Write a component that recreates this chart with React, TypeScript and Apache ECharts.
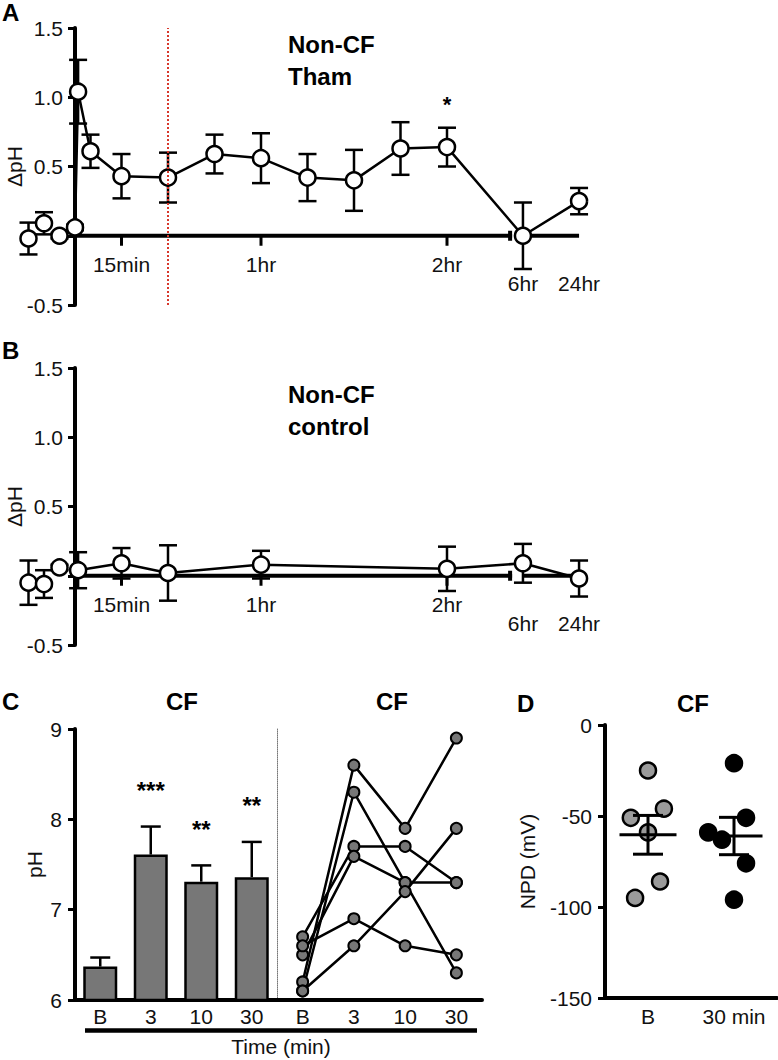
import React, { useEffect, useRef } from "react";
import * as echarts from "echarts";

const FONT = "'Liberation Sans', Arial, Helvetica, sans-serif";
const INK = "#111";

// ---------- Panel A: Non-CF, Tham (delta pH, mean ± SEM) ----------
const THAM_TIMES = [-15, -10, -5, 0, 1, 5, 15, 30, 45, 60, 75, 90, 105, 120, 360, 1440];
const THAM_MEAN = [-0.02, 0.09, 0.0, 0.06, 1.04, 0.61, 0.43, 0.42, 0.59, 0.56, 0.42, 0.4, 0.63, 0.64, 0.0, 0.25];
const THAM_SEM = [0.115, 0.08, 0.02, 0.02, 0.23, 0.12, 0.16, 0.18, 0.14, 0.18, 0.17, 0.22, 0.19, 0.14, 0.24, 0.095];
const THAM_SIG = ["", "", "", "", "", "", "", "", "", "", "", "", "", "*", "", ""];
const THAM_MARKER_TIME = 30; // red dotted line

// ---------- Panel B: Non-CF, control ----------
const CONTROL_TIMES = [-15, -10, -5, 1, 15, 30, 60, 120, 360, 1440];
const CONTROL_MEAN = [-0.05, -0.06, 0.06, 0.04, 0.09, 0.02, 0.08, 0.05, 0.09, -0.02];
const CONTROL_SEM = [0.16, 0.1, 0.02, 0.13, 0.11, 0.2, 0.1, 0.16, 0.14, 0.13];

const TIME_TICKS = [15, 60, 120];
const TIME_TICK_LABELS = ["15min", "1hr", "2hr"];
const LATE_TIMES = [360, 1440];
const LATE_LABELS = ["6hr", "24hr"];
const DPH_TICKS = [-0.5, 0, 0.5, 1.0, 1.5];

// ---------- Panel C: CF pH ----------
const CF_TIMES = ["B", "3", "10", "30"];
const CF_BAR_MEAN = [6.37, 7.61, 7.31, 7.36];
const CF_BAR_SEM = [0.1, 0.31, 0.18, 0.39];
const CF_STARS = ["", "***", "**", "**"];
const CF_SUBJECT_1 = [6.2, 8.6, 7.9, 8.9];
const CF_SUBJECT_2 = [6.1, 8.3, 7.3, 6.3];
const CF_SUBJECT_3 = [6.7, 7.7, 7.7, 7.3];
const CF_SUBJECT_4 = [6.5, 7.59, 7.3, 7.3];
const CF_SUBJECT_5 = [6.6, 6.9, 6.6, 6.5];
const CF_SUBJECT_6 = [6.1, 6.6, 7.2, 7.9];
const CF_SUBJECTS = [CF_SUBJECT_1, CF_SUBJECT_2, CF_SUBJECT_3, CF_SUBJECT_4, CF_SUBJECT_5, CF_SUBJECT_6];

// ---------- Panel D: CF NPD ----------
const NPD_GROUPS = ["B", "30 min"];
const NPD_B = [-25, -51, -46, -59, -86, -95];
const NPD_B_JITTER = [0, -0.4, 0.37, 0, 0.28, -0.3];
const NPD_30 = [-21, -51, -59, -63, -76, -96];
const NPD_30_JITTER = [0, 0.28, -0.6, -0.28, 0.28, 0];

// ---------- layout constants (broken time axis) ----------
const LATE_AXIS_POS = [144.5, 162.6];
const AXIS_BREAK = 141;
const toAxis = (t: number) => {
  const i = LATE_TIMES.indexOf(t);
  return i >= 0 ? LATE_AXIS_POS[i] : t;
};

const mean = (a: number[]) => a.reduce((s, v) => s + v, 0) / a.length;
const sem = (a: number[]) => {
  const m = mean(a);
  const v = a.reduce((s, x) => s + (x - m) * (x - m), 0) / (a.length - 1);
  return Math.sqrt(v) / Math.sqrt(a.length);
};

const LABEL = { fontSize: 21, color: INK, fontFamily: FONT };
const AXIS_LINE = { show: true, onZero: false, lineStyle: { color: "#000", width: 4 } };
const Y_TICK = { show: true, length: 7, lineStyle: { color: "#000", width: 3 } };

function errRender(capHalf: number, both: boolean) {
  return (params: any, api: any) => {
    const x = api.value(0);
    const lo = api.coord([x, api.value(1)]);
    const hi = api.coord([x, api.value(2)]);
    const style = { stroke: "#000", lineWidth: 2.5, fill: null };
    const children: any[] = [
      { type: "line", shape: { x1: hi[0], y1: hi[1], x2: lo[0], y2: lo[1] }, style },
      { type: "line", shape: { x1: hi[0] - capHalf, y1: hi[1], x2: hi[0] + capHalf, y2: hi[1] }, style },
    ];
    if (both) {
      children.push({ type: "line", shape: { x1: lo[0] - capHalf, y1: lo[1], x2: lo[0] + capHalf, y2: lo[1] }, style });
    }
    return { type: "group", children };
  };
}

function starRender(labels: string[], offset: number, size: number) {
  return (params: any, api: any) => {
    const p = api.coord([api.value(0), api.value(1)]);
    const txt = labels[api.value(2)];
    return {
      type: "text",
      x: p[0],
      y: p[1] - offset,
      style: { text: txt, fontSize: size, fontWeight: "bold", fontFamily: FONT, fill: "#000", align: "center", verticalAlign: "middle" },
    };
  };
}

// x-axis line drawn at y = 0, broken before the late time points
function axisSegRender(params: any, api: any) {
  const a = api.coord([api.value(0), 0]);
  const b = api.coord([api.value(1), 0]);
  const children: any[] = [
    { type: "line", shape: { x1: a[0], y1: a[1], x2: b[0], y2: b[1] }, style: { stroke: "#000", lineWidth: 4 } },
  ];
  if (api.value(2) === 1) {
    children.push({ type: "rect", shape: { x: b[0] - 4, y: b[1] - 5, width: 4, height: 10 }, style: { fill: "#000" } });
  }
  return { type: "group", children };
}

const ALL_TIME_LABELS = [...TIME_TICK_LABELS, ...LATE_LABELS];
function timeTickRender(params: any, api: any) {
  const p = api.coord([api.value(0), 0]);
  const late = api.value(2) === 1;
  const children: any[] = [];
  if (!late) {
    children.push({ type: "line", shape: { x1: p[0], y1: p[1], x2: p[0], y2: p[1] + 10 }, style: { stroke: "#000", lineWidth: 3 } });
  }
  children.push({
    type: "text",
    x: p[0],
    y: p[1] + (late ? 48 : 29),
    style: { text: ALL_TIME_LABELS[api.value(1)], fontSize: 21, fontFamily: FONT, fill: INK, align: "center", verticalAlign: "middle" },
  });
  return { type: "group", children };
}

function timeAxis(gridIndex: number) {
  return {
    gridIndex,
    type: "value",
    min: 0,
    max: 165,
    axisLine: { show: false },
    splitLine: { show: false },
    axisTick: { show: false },
    axisLabel: { show: false },
  };
}

function dphAxis(gridIndex: number) {
  return {
    gridIndex,
    type: "value",
    min: DPH_TICKS[0],
    max: DPH_TICKS[DPH_TICKS.length - 1],
    interval: 0.5,
    axisLine: { ...AXIS_LINE },
    axisTick: Y_TICK,
    splitLine: { show: false },
    axisLabel: { ...LABEL, margin: 12, formatter: (v: number) => (v === 0 ? "" : v.toFixed(1)) },
    name: "ΔpH",
    nameLocation: "middle",
    nameRotate: 90,
    nameGap: 50,
    nameMoveOverlap: false,
    nameTextStyle: { ...LABEL },
  };
}

function timePanelSeries(xi: number, times: number[], means: number[], sems: number[], extra: any = {}) {
  const tickData = [
    ...TIME_TICKS.map((t, i) => [t, i, 0]),
    ...LATE_TIMES.map((t, i) => [toAxis(t), TIME_TICKS.length + i, 1]),
  ];
  return [
    {
      type: "custom",
      xAxisIndex: xi,
      yAxisIndex: xi,
      renderItem: axisSegRender,
      encode: { x: [0, 1] },
      data: [
        [0, AXIS_BREAK, 1],
        [LATE_AXIS_POS[0], LATE_AXIS_POS[1], 0],
      ],
      z: 1,
      silent: true,
      ...extra,
    },
    {
      type: "custom",
      xAxisIndex: xi,
      yAxisIndex: xi,
      renderItem: timeTickRender,
      encode: { x: 0 },
      data: tickData,
      z: 1,
      silent: true,
    },
    {
      type: "custom",
      xAxisIndex: xi,
      yAxisIndex: xi,
      renderItem: errRender(9, true),
      encode: { x: 0, y: [1, 2] },
      data: times.map((t, i) => [toAxis(t), means[i] - sems[i], means[i] + sems[i]]),
      z: 2,
      silent: true,
    },
    {
      type: "line",
      xAxisIndex: xi,
      yAxisIndex: xi,
      data: times.map((t, i) => [toAxis(t), means[i]]),
      symbol: "circle",
      symbolSize: 16,
      clip: false,
      itemStyle: { color: "#fff", borderColor: "#000", borderWidth: 2.5 },
      lineStyle: { color: "#000", width: 2.5 },
      z: 3,
      silent: true,
    },
  ];
}

const boldText = (text: string, x: number, y: number, align = "left") => ({
  type: "text",
  x,
  y,
  silent: true,
  style: { text, fontSize: 24, fontWeight: "bold", fontFamily: FONT, fill: "#000", align, verticalAlign: "middle" },
});

function buildOption() {
  const npdStats = [NPD_B, NPD_30].map((g, i) => {
    const m = mean(g);
    const s = sem(g);
    return [1 + 2 * i, m, m - s, m + s];
  });

  return {
    animation: false,
    backgroundColor: "#fff",
    textStyle: { fontFamily: FONT },
    grid: [
      { left: 75, top: 28, width: 511.5, height: 277, outerBoundsMode: "none" },
      { left: 75, top: 368, width: 511.5, height: 277, outerBoundsMode: "none" },
      { left: 75, top: 729, width: 202, height: 271, outerBoundsMode: "none" },
      { left: 277, top: 729, width: 205, height: 271, outerBoundsMode: "none" },
      { left: 605, top: 725, width: 172, height: 273, outerBoundsMode: "none" },
    ],
    xAxis: [
      timeAxis(0),
      timeAxis(1),
      {
        gridIndex: 2,
        type: "category",
        data: CF_TIMES,
        axisLine: { ...AXIS_LINE },
        axisTick: { show: false },
        axisLabel: { ...LABEL, margin: 6 },
      },
      {
        gridIndex: 3,
        type: "category",
        data: CF_TIMES,
        axisLine: { ...AXIS_LINE },
        axisTick: { show: false },
        axisLabel: { ...LABEL, margin: 6 },
      },
      {
        gridIndex: 4,
        type: "value",
        min: 0,
        max: 4,
        axisLine: { ...AXIS_LINE },
        axisTick: { show: false },
        splitLine: { show: false },
        axisLabel: {
          ...LABEL,
          margin: 8,
          customValues: [1, 3],
          formatter: (v: number) => NPD_GROUPS[(v - 1) / 2] || "",
        },
      },
    ],
    yAxis: [
      dphAxis(0),
      dphAxis(1),
      {
        gridIndex: 2,
        type: "value",
        min: 6,
        max: 9,
        interval: 1,
        axisLine: { ...AXIS_LINE },
        axisTick: Y_TICK,
        splitLine: { show: false },
        axisLabel: { ...LABEL, margin: 13 },
        name: "pH",
        nameLocation: "middle",
        nameRotate: 90,
        nameGap: 30,
        nameMoveOverlap: false,
        nameTextStyle: { ...LABEL },
      },
      {
        gridIndex: 3,
        type: "value",
        min: 6,
        max: 9,
        interval: 1,
        axisLine: { show: true, onZero: false, lineStyle: { color: "#777", width: 1, type: "dotted" } },
        axisTick: { show: false },
        axisLabel: { show: false },
        splitLine: { show: false },
      },
      {
        gridIndex: 4,
        type: "value",
        min: -150,
        max: 0,
        interval: 50,
        axisLine: { ...AXIS_LINE },
        axisTick: Y_TICK,
        splitLine: { show: false },
        axisLabel: { ...LABEL, margin: 13 },
        name: "NPD (mV)",
        nameLocation: "middle",
        nameRotate: 90,
        nameGap: 67,
        nameMoveOverlap: false,
        nameTextStyle: { ...LABEL },
      },
    ],
    series: [
      // Panel A
      ...timePanelSeries(0, THAM_TIMES, THAM_MEAN, THAM_SEM, {
        markLine: {
          silent: true,
          symbol: "none",
          label: { show: false },
          lineStyle: { color: "#d8382c", type: "dotted", width: 2 },
          data: [{ xAxis: THAM_MARKER_TIME }],
        },
      }),
      {
        type: "custom",
        xAxisIndex: 0,
        yAxisIndex: 0,
        renderItem: starRender(THAM_SIG, 23, 22),
        encode: { x: 0, y: 1 },
        data: THAM_TIMES.map((t, i) => [toAxis(t), THAM_MEAN[i] + THAM_SEM[i], i]).filter((d) => THAM_SIG[d[2]]),
        z: 5,
        silent: true,
      },
      // Panel B
      ...timePanelSeries(1, CONTROL_TIMES, CONTROL_MEAN, CONTROL_SEM),
      // Panel C bars
      {
        type: "bar",
        xAxisIndex: 2,
        yAxisIndex: 2,
        data: CF_BAR_MEAN,
        barWidth: 34,
        itemStyle: { color: "#777", borderColor: "#000", borderWidth: 2.5 },
        z: 2,
        silent: true,
      },
      {
        type: "custom",
        xAxisIndex: 2,
        yAxisIndex: 2,
        renderItem: errRender(10, false),
        encode: { x: 0, y: [1, 2] },
        data: CF_BAR_MEAN.map((m, i) => [i, m, m + CF_BAR_SEM[i]]),
        z: 3,
        silent: true,
      },
      {
        type: "custom",
        xAxisIndex: 2,
        yAxisIndex: 2,
        renderItem: starRender(CF_STARS, 36, 24),
        encode: { x: 0, y: 1 },
        data: CF_BAR_MEAN.map((m, i) => [i, m + CF_BAR_SEM[i], i]).filter((d) => CF_STARS[d[2]]),
        z: 5,
        silent: true,
      },
      // Panel C paired lines
      ...CF_SUBJECTS.map((vals) => ({
        type: "line",
        xAxisIndex: 3,
        yAxisIndex: 3,
        data: vals,
        symbol: "circle",
        symbolSize: 11,
        itemStyle: { color: "#777", borderColor: "#000", borderWidth: 2 },
        lineStyle: { color: "#000", width: 2.5 },
        z: 3,
        silent: true,
      })),
      // Panel D
      {
        type: "scatter",
        xAxisIndex: 4,
        yAxisIndex: 4,
        data: NPD_B.map((v, i) => [1 + NPD_B_JITTER[i], v]),
        symbolSize: 16,
        itemStyle: { color: "#9a9a9a", borderColor: "#000", borderWidth: 2.5, opacity: 1 },
        z: 2,
        silent: true,
      },
      {
        type: "scatter",
        xAxisIndex: 4,
        yAxisIndex: 4,
        data: NPD_30.map((v, i) => [3 + NPD_30_JITTER[i], v]),
        symbolSize: 16,
        itemStyle: { color: "#000", borderColor: "#000", borderWidth: 2.5, opacity: 1 },
        z: 2,
        silent: true,
      },
      {
        type: "custom",
        xAxisIndex: 4,
        yAxisIndex: 4,
        encode: { x: 0, y: [1, 2, 3] },
        data: npdStats,
        z: 4,
        silent: true,
        renderItem: (params: any, api: any) => {
          const x = api.value(0);
          const m = api.coord([x, api.value(1)]);
          const lo = api.coord([x, api.value(2)]);
          const hi = api.coord([x, api.value(3)]);
          const style = { stroke: "#000", lineWidth: 3 };
          return {
            type: "group",
            children: [
              { type: "line", shape: { x1: m[0] - 28.5, y1: m[1], x2: m[0] + 28.5, y2: m[1] }, style },
              { type: "line", shape: { x1: hi[0], y1: hi[1], x2: lo[0], y2: lo[1] }, style },
              { type: "line", shape: { x1: hi[0] - 15, y1: hi[1], x2: hi[0] + 15, y2: hi[1] }, style },
              { type: "line", shape: { x1: lo[0] - 15, y1: lo[1], x2: lo[0] + 15, y2: lo[1] }, style },
            ],
          };
        },
      },
    ],
    graphic: [
      boldText("A", 2, 12),
      boldText("B", 2, 350),
      boldText("C", 2, 701),
      boldText("D", 517, 703),
      boldText("Non-CF", 288, 44),
      boldText("Tham", 288, 76),
      boldText("Non-CF", 288, 394),
      boldText("control", 288, 426),
      boldText("CF", 182, 701, "center"),
      boldText("CF", 392, 701, "center"),
      boldText("CF", 693, 703, "center"),
      {
        type: "line",
        silent: true,
        shape: { x1: 85, y1: 1030.5, x2: 477, y2: 1030.5 },
        style: { stroke: "#000", lineWidth: 4.5 },
      },
      {
        type: "text",
        x: 281,
        y: 1046,
        silent: true,
        style: { text: "Time (min)", fontSize: 21, fontFamily: FONT, fill: INK, align: "center", verticalAlign: "middle" },
      },
    ],
  };
}

export default function App() {
  const ref = useRef<HTMLDivElement>(null);
  useEffect(() => {
    if (!ref.current) return;
    const chart = echarts.init(ref.current, null, { renderer: "svg" });
    chart.setOption(buildOption() as any);
    return () => chart.dispose();
  }, []);
  return (
    <div
      ref={ref}
      style={{ position: "absolute", left: 0, top: 0, width: 778, height: 1060, background: "#fff" }}
    />
  );
}
